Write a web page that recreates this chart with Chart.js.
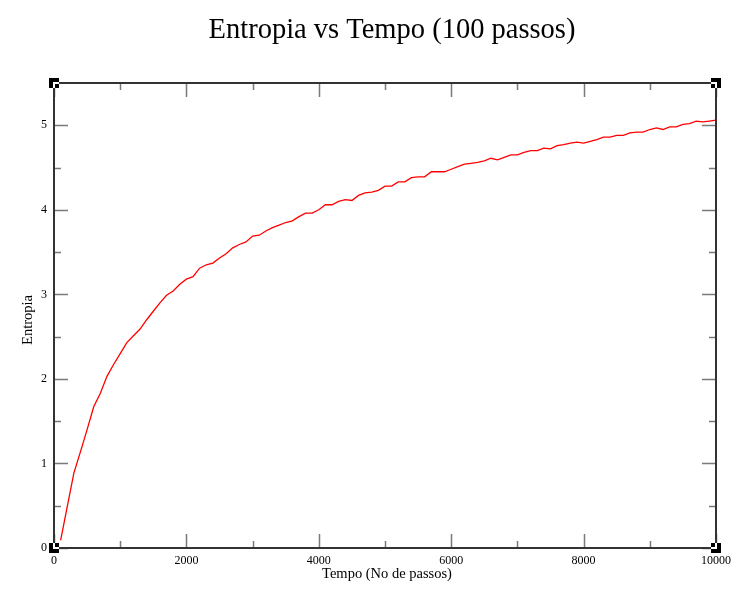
<!DOCTYPE html>
<html>
<head>
<meta charset="utf-8">
<script src="https://cdn.jsdelivr.net/npm/chart.js@4/dist/chart.umd.min.js"></script>
<style>
html,body{margin:0;padding:0;background:#fff;}
#wrap{width:746px;height:590px;}
</style>
</head>
<body>
<div id="wrap"><canvas id="c" width="746" height="590"></canvas></div>
<script>
const titleText = "Entropia vs Tempo (100 passos)";
const xTitle = "Tempo (No de passos)";
const yTitle = "Entropia";

const steps = [100,200,300,400,500,600,700,800,900,1000,
1100,1200,1300,1400,1500,1600,1700,1800,1900,2000,
2100,2200,2300,2400,2500,2600,2700,2800,2900,3000,
3100,3200,3300,3400,3500,3600,3700,3800,3900,4000,
4100,4200,4300,4400,4500,4600,4700,4800,4900,5000,
5100,5200,5300,5400,5500,5600,5700,5800,5900,6000,
6100,6200,6300,6400,6500,6600,6700,6800,6900,7000,
7100,7200,7300,7400,7500,7600,7700,7800,7900,8000,
8100,8200,8300,8400,8500,8600,8700,8800,8900,9000,
9100,9200,9300,9400,9500,9600,9700,9800,9900,10000];

const entropy = [0.09,0.49,0.885,1.14,1.40,1.67,1.83,2.03,2.17,2.30,
2.43,2.51,2.59,2.70,2.80,2.90,2.99,3.04,3.12,3.18,
3.21,3.31,3.35,3.37,3.43,3.48,3.55,3.59,3.62,3.69,
3.70,3.75,3.79,3.82,3.85,3.87,3.92,3.96,3.96,4.00,
4.06,4.06,4.10,4.12,4.11,4.17,4.20,4.21,4.23,4.28,
4.28,4.33,4.33,4.38,4.39,4.39,4.45,4.45,4.45,4.48,
4.51,4.54,4.55,4.56,4.58,4.61,4.59,4.62,4.65,4.65,
4.68,4.70,4.70,4.73,4.72,4.76,4.77,4.79,4.80,4.79,
4.81,4.83,4.86,4.86,4.88,4.88,4.91,4.92,4.92,4.95,
4.97,4.95,4.98,4.98,5.01,5.02,5.05,5.04,5.05,5.06];

const xMajorTicks = [0,2000,4000,6000,8000,10000];
const xMinorTicks = [1000,3000,5000,7000,9000];
const yMajorTicks = [0,1,2,3,4,5];
const yMinorTicks = [0.5,1.5,2.5,3.5,4.5];
const xRange = [0,10000];
const yRange = [0,5.5];

const SERIF = "'Liberation Serif','DejaVu Serif','Times New Roman',serif";

const decor = {
  id: 'decor',
  afterDatasetsDraw(chart) {
    const ctx = chart.ctx;
    const a = chart.chartArea;
    const xs = chart.scales.x, ys = chart.scales.y;
    ctx.save();
    // ticks (inward, all four sides)
    ctx.strokeStyle = '#7a7a7a';
    ctx.lineWidth = 1.5;
    ctx.beginPath();
    const drawX = (v, len) => {
      const p = Math.round(xs.getPixelForValue(v)) + 0.5;
      ctx.moveTo(p, a.bottom); ctx.lineTo(p, a.bottom - len);
      ctx.moveTo(p, a.top); ctx.lineTo(p, a.top + len);
    };
    const drawY = (v, len) => {
      const p = Math.round(ys.getPixelForValue(v)) + 0.5;
      ctx.moveTo(a.left, p); ctx.lineTo(a.left + len, p);
      ctx.moveTo(a.right, p); ctx.lineTo(a.right - len, p);
    };
    xMajorTicks.forEach(v => drawX(v, 14));
    xMinorTicks.forEach(v => drawX(v, 7));
    yMajorTicks.forEach(v => drawY(v, 14));
    yMinorTicks.forEach(v => drawY(v, 7));
    ctx.stroke();
    // frame
    ctx.strokeStyle = '#333333';
    ctx.lineWidth = 2;
    ctx.strokeRect(a.left, a.top, a.right - a.left, a.bottom - a.top);
    // corner selection markers
    const corners = [[a.left, a.top], [a.right, a.top], [a.left, a.bottom], [a.right, a.bottom]];
    corners.forEach(([cx, cy]) => {
      ctx.fillStyle = '#000';
      ctx.fillRect(cx - 5, cy - 5, 10, 10);
      ctx.save();
      ctx.beginPath();
      ctx.rect(cx - 5, cy - 5, 10, 10);
      ctx.clip();
      ctx.strokeStyle = '#fff';
      ctx.lineWidth = 2;
      ctx.strokeRect(a.left, a.top, a.right - a.left, a.bottom - a.top);
      ctx.restore();
    });
    // titles
    ctx.fillStyle = '#000';
    ctx.textAlign = 'center';
    ctx.textBaseline = 'alphabetic';
    ctx.font = '28.5px ' + SERIF;
    ctx.fillText(titleText, 392, 38);
    ctx.font = '14.5px ' + SERIF;
    ctx.fillText(xTitle, 387, 578);
    ctx.save();
    ctx.translate(32, 320);
    ctx.rotate(-Math.PI / 2);
    ctx.fillText(yTitle, 0, 0);
    ctx.restore();
    ctx.restore();
  }
};

new Chart(document.getElementById('c'), {
  type: 'line',
  data: {
    datasets: [{
      data: steps.map((s, i) => ({x: s, y: entropy[i]})),
      borderColor: '#ff0000',
      borderWidth: 1.3,
      pointRadius: 0,
      tension: 0,
      fill: false
    }]
  },
  options: {
    responsive: false,
    animation: false,
    devicePixelRatio: 1,
    layout: { padding: { left: 0, right: 30, top: 83, bottom: 0 } },
    plugins: { legend: { display: false }, title: { display: false }, tooltip: { enabled: false } },
    scales: {
      x: {
        type: 'linear', min: xRange[0], max: xRange[1],
        grid: { display: false, drawTicks: false },
        border: { display: false },
        afterBuildTicks: s => { s.ticks = xMajorTicks.map(v => ({value: v})); },
        afterFit: s => { s.height = 42; },
        ticks: { font: { family: SERIF, size: 12 }, color: '#000', padding: 6, maxRotation: 0, autoSkip: false,
                 callback: v => String(v) }
      },
      y: {
        type: 'linear', min: yRange[0], max: yRange[1],
        grid: { display: false, drawTicks: false },
        border: { display: false },
        afterBuildTicks: s => { s.ticks = yMajorTicks.map(v => ({value: v})); },
        afterFit: s => { s.width = 54; },
        ticks: { font: { family: SERIF, size: 12 }, color: '#000', padding: 7,
                 callback: v => String(v) }
      }
    }
  },
  plugins: [decor]
});
</script>
</body>
</html>
